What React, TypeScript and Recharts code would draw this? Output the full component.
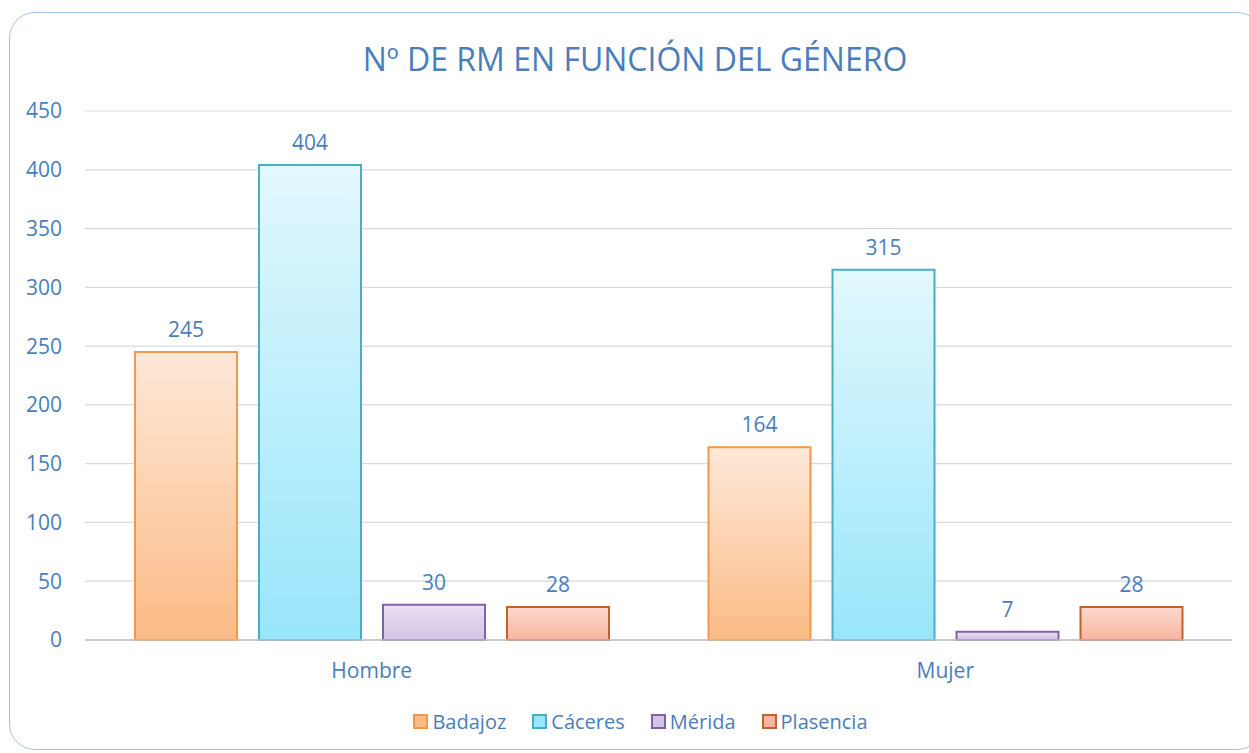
import React from 'react';
import { BarChart, Bar, XAxis, YAxis, CartesianGrid, LabelList } from 'recharts';

const categories = ['Hombre', 'Mujer'];
const badajoz = [245, 164];
const caceres = [404, 315];
const merida = [30, 7];
const plasencia = [28, 28];
const yTicks = [0, 50, 100, 150, 200, 250, 300, 350, 400, 450];

const seriesNames = ['Badajoz', 'Cáceres', 'Mérida', 'Plasencia'];

const data = categories.map((name, i) => ({
  name,
  Badajoz: badajoz[i],
  'Cáceres': caceres[i],
  'Mérida': merida[i],
  Plasencia: plasencia[i],
}));

const FONT = '"Open Sans", sans-serif';
const BLUE = '#4a7ebb';

const styles = [
  { key: 'Badajoz', top: '#fde8d8', bottom: '#fbbb86', stroke: '#f79646' },
  { key: 'Cáceres', top: '#e3f8fd', bottom: '#98e6fb', stroke: '#4bacc6' },
  { key: 'Mérida', top: '#e9e0f2', bottom: '#d3c3e5', stroke: '#8064a2' },
  { key: 'Plasencia', top: '#fcd9cd', bottom: '#f9b4a0', stroke: '#c0632a' },
];

const Legend = () => (
  <div
    style={{
      position: 'absolute',
      top: 708,
      left: 0,
      width: 1249,
      display: 'flex',
      justifyContent: 'center',
      fontFamily: FONT,
      fontSize: 20,
      color: BLUE,
      paddingLeft: 32,
      boxSizing: 'border-box',
    }}
  >
    {styles.map((s, i) => (
      <div key={s.key} style={{ display: 'flex', alignItems: 'center', marginRight: i < 3 ? 26 : 0 }}>
        <div
          style={{
            width: 11,
            height: 11,
            border: `2px solid ${s.stroke}`,
            background: s.bottom,
            marginRight: 4,
          }}
        />
        <span>{seriesNames[i]}</span>
      </div>
    ))}
  </div>
);

export default function App() {
  return (
    <div style={{ position: 'absolute', left: 0, top: 0, width: 1249, height: 753, background: '#fff', overflow: 'hidden' }}>
      <div
        style={{
          position: 'absolute',
          left: 9,
          top: 12,
          width: 1254,
          height: 738,
          border: '1.5px solid #a9c4e3',
          borderRadius: 26,
          boxSizing: 'border-box',
        }}
      />
      <div
        style={{
          position: 'absolute',
          top: 37,
          left: 0,
          width: 1270,
          textAlign: 'center',
          fontFamily: FONT,
          fontSize: 32,
          color: BLUE,
        }}
      >
        Nº DE RM EN FUNCIÓN DEL GÉNERO
      </div>
      <div style={{ position: 'absolute', left: 0, top: 0 }}>
        <BarChart
          width={1249}
          height={700}
          data={data}
          margin={{ top: 111, right: 17, left: 0, bottom: 0 }}
          barCategoryGap={50}
          barGap={22}
        >
          <defs>
            {styles.map((s, i) => (
              <linearGradient key={s.key} id={`g${i}`} x1="0" y1="0" x2="0" y2="1">
                <stop offset="0%" stopColor={s.top} />
                <stop offset="100%" stopColor={s.bottom} />
              </linearGradient>
            ))}
          </defs>
          <CartesianGrid vertical={false} stroke="#d9d9d9" strokeWidth={1.2} />
          <XAxis
            dataKey="name"
            height={60}
            axisLine={{ stroke: '#bfbfbf', strokeWidth: 1.5 }}
            tickLine={false}
            tickSize={0}
            tickMargin={23}
            tick={{ fill: BLUE, fontFamily: FONT, fontSize: 21 }}
          />
          <YAxis
            width={85}
            domain={[0, 450]}
            ticks={yTicks}
            axisLine={false}
            tickLine={false}
            tickSize={0}
            tickMargin={23}
            tick={{ fill: BLUE, fontFamily: FONT, fontSize: 21 }}
          />
          {styles.map((s, i) => (
            <Bar
              key={s.key}
              dataKey={s.key}
              fill={`url(#g${i})`}
              stroke={s.stroke}
              strokeWidth={2}
              isAnimationActive={false}
            >
              <LabelList
                dataKey={s.key}
                position="top"
                offset={15}
                fill={BLUE}
                fontFamily={FONT}
                fontSize={21}
              />
            </Bar>
          ))}
        </BarChart>
      </div>
      <Legend />
    </div>
  );
}
